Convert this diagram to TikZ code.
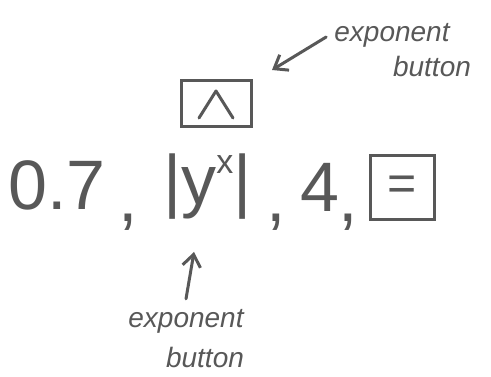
\documentclass[tikz,border=0pt]{standalone}
\usepackage{fontspec}
\setmainfont{Liberation Sans}
\usetikzlibrary{arrows.meta}
\definecolor{ink}{RGB}{88,88,88}
\begin{document}
\begin{tikzpicture}[x=1pt,y=-1pt,
  ink/.style={text=ink,draw=none,inner sep=0pt},
  big/.style={ink,font=\fontsize{70}{70}\selectfont},
  lbl/.style={ink,font=\fontsize{28}{28}\selectfont\itshape},
  btn/.style={draw=ink,line width=3pt,text=ink,inner sep=0pt},
  stroke/.style={draw=ink,line width=3pt,line cap=round,line join=round},
  arr/.style={stroke,-{Straight Barb[length=12pt,width=18pt]}}]
\useasboundingbox[fill=white] (0,0) rectangle (491,377);
% top label
\node[lbl] (expA) at (392,35) {exponent};
\node[lbl] (expB) at (432,66) {button};
\coordinate (tipA) at (272,70);
\draw[arr] ([xshift=-8pt,yshift=-2pt]expA.west) -- (tipA);
% exponent button box
\node[btn,minimum width=70pt,minimum height=46pt] (powbox) at (216,104) {};
\draw[stroke] ([shift={(-17pt,-14pt)}]powbox.center) -- ([shift={(0pt,13pt)}]powbox.center) -- ([shift={(17pt,-14pt)}]powbox.center);
% main row
\node[big,anchor=base west] (num) at (8,210) {0.7};
\node[big,anchor=base] (c1) at (128,222) {,};
\node[big,anchor=base west] (expr) at (163,205) {|y\raisebox{0.45em}{\fontsize{34}{34}\selectfont x}|};
\node[big,anchor=base] (c2) at (276,222) {,};
\node[big,anchor=base west] (four) at (300,212) {4};
\node[big,anchor=base] (c3) at (348,222) {,};
\node[btn,minimum width=64pt,minimum height=64pt,font=\fontsize{50}{50}\selectfont] (eqbox) at (402,188) {=};
% bottom label
\node[lbl] (expC) at (186,321) {exponent};
\node[lbl] (expD) at (205,357) {button};
\coordinate (tipB) at (194,252);
\draw[arr] ([yshift=10pt]expC.north) -- (tipB);
\end{tikzpicture}
\end{document}
